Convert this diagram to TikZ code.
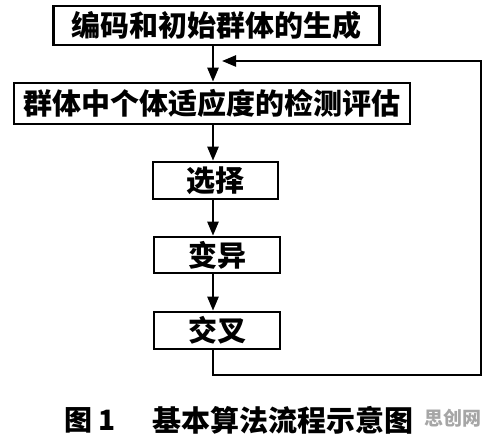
\documentclass[tikz,border=0pt]{standalone}
\usepackage{fontspec}
\newfontfamily\cjk{Noto Sans CJK SC}
\usetikzlibrary{arrows.meta}
\begin{document}
\begin{tikzpicture}[x=1pt,y=1pt,
  box/.style={draw,line width=2.6pt,inner sep=0pt,font=\cjk\bfseries\fontsize{29}{30}\selectfont},
  arr/.style={line width=2.4pt,-{Triangle[length=14pt,width=11pt]}},
  lnk/.style={line width=2.4pt}]
\useasboundingbox (0,0) rectangle (490,-438);
\node[box,minimum width=326pt,minimum height=39pt] (b1) at (216.5,-25.5) {编码和初始群体的生成};
\node[box,minimum width=396pt,minimum height=41pt] (b2) at (212,-103.5) {群体中个体适应度的检测评估};
\node[box,minimum width=125pt,minimum height=37pt] (b3) at (215.5,-180.5) {选择};
\node[box,minimum width=126pt,minimum height=36pt] (b4) at (217,-255) {变异};
\node[box,minimum width=126pt,minimum height=37pt] (b5) at (217,-330.5) {交叉};
\coordinate (ax) at (213,0);
\coordinate (fb) at (481,-375);
\coordinate (fbend) at (222,-61);
\draw[arr] (b1.south -| ax) -- (b2.north -| ax);
\draw[arr] (b2.south -| ax) -- (b3.north -| ax);
\draw[arr] (b3.south -| ax) -- (b4.north -| ax);
\draw[arr] (b4.south -| ax) -- (b5.north -| ax);
\draw[arr,rounded corners=0pt] (b5.south -| ax) |- (fb) |- (fbend);
\node[anchor=west,inner sep=0pt,font=\cjk\bfseries\fontsize{28}{30}\selectfont] (c1) at (64,-420) {图 1};
\node[anchor=west,inner sep=0pt,font=\cjk\bfseries\fontsize{29}{30}\selectfont] (c2) at (152,-420) {基本算法流程示意图};
\node[anchor=west,inner sep=0pt,text=black!35,font=\cjk\bfseries\fontsize{19}{20}\selectfont] (wm) at (424,-418) {思创网};
\end{tikzpicture}
\end{document}
